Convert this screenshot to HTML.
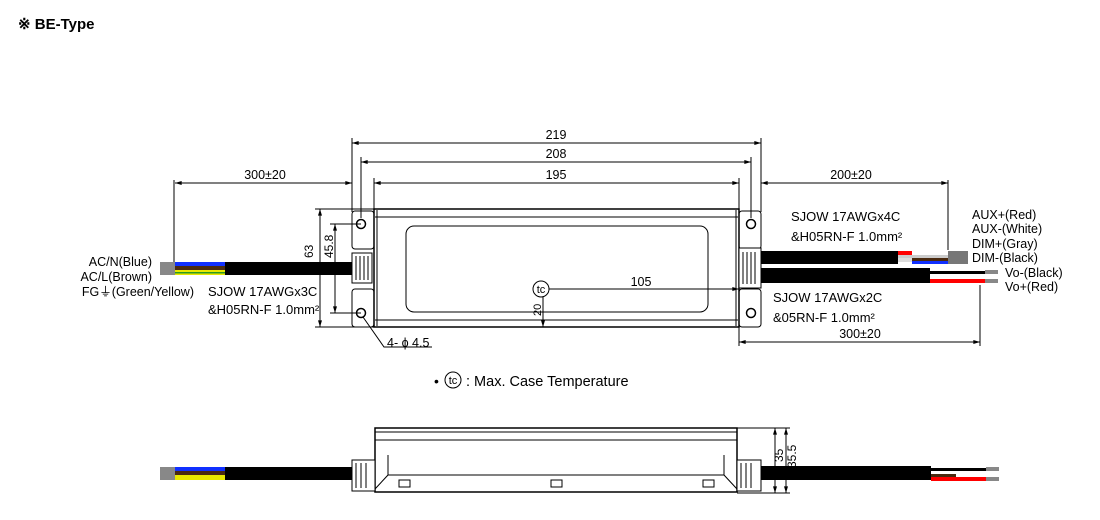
<!DOCTYPE html>
<html><head><meta charset="utf-8"><style>
body{margin:0;background:#fff}
svg{display:block;font-family:"Liberation Sans",Arial,sans-serif}
</style></head><body>
<svg width="1100" height="520" viewBox="0 0 1100 520" xmlns="http://www.w3.org/2000/svg">
<defs>
<marker id="a" viewBox="0 0 10 6" refX="10" refY="3" markerWidth="7" markerHeight="4" orient="auto-start-reverse"><path d="M0,0L10,3L0,6z" fill="#000"/></marker>
</defs>
<text x="18" y="29" font-size="15" font-weight="bold">※ BE-Type</text>
<g stroke="#000" stroke-width="1" fill="none">
<line x1="352" y1="143" x2="761" y2="143" marker-start="url(#a)" marker-end="url(#a)"/>
<line x1="361" y1="162" x2="751" y2="162" marker-start="url(#a)" marker-end="url(#a)"/>
<line x1="374" y1="183" x2="739" y2="183" marker-start="url(#a)" marker-end="url(#a)"/>
<line x1="175" y1="183" x2="352" y2="183" marker-start="url(#a)" marker-end="url(#a)"/>
<line x1="761" y1="183" x2="948" y2="183" marker-start="url(#a)" marker-end="url(#a)"/>
<line x1="739" y1="342" x2="980" y2="342" marker-start="url(#a)" marker-end="url(#a)"/>
<line x1="352" y1="138" x2="352" y2="212"/><line x1="761" y1="138" x2="761" y2="212"/>
<line x1="361" y1="157" x2="361" y2="218"/><line x1="751" y1="157" x2="751" y2="218"/>
<line x1="374" y1="178" x2="374" y2="209"/><line x1="739" y1="178" x2="739" y2="209"/>
<line x1="174" y1="180" x2="174" y2="262"/><line x1="948" y1="180" x2="948" y2="250"/>
<line x1="739" y1="327" x2="739" y2="346"/><line x1="980" y1="285" x2="980" y2="346"/>
<line x1="320" y1="209" x2="320" y2="327" marker-start="url(#a)" marker-end="url(#a)"/>
<line x1="335" y1="224" x2="335" y2="313" marker-start="url(#a)" marker-end="url(#a)"/>
<line x1="315" y1="209" x2="374" y2="209"/><line x1="315" y1="327" x2="374" y2="327"/>
<line x1="330" y1="224" x2="361" y2="224"/><line x1="330" y1="313" x2="361" y2="313"/>
<line x1="549" y1="289" x2="739" y2="289" marker-end="url(#a)"/>
<line x1="543" y1="297" x2="543" y2="327" marker-end="url(#a)"/>
<polyline points="363,317 384,347 432,347"/>
<rect x="352" y="211" width="22" height="38" rx="3"/><rect x="352" y="289" width="22" height="38" rx="3"/>
<rect x="739" y="211" width="22" height="38" rx="3"/><rect x="739" y="289" width="22" height="38" rx="3"/>
<circle cx="361" cy="224" r="4.5" stroke-width="1.5"/><circle cx="361" cy="313" r="4.5" stroke-width="1.5"/>
<circle cx="751" cy="224" r="4.5" stroke-width="1.5"/><circle cx="751" cy="313" r="4.5" stroke-width="1.5"/>
<rect x="374" y="209" width="365" height="118" stroke-width="1.5"/>
<line x1="375" y1="217" x2="738" y2="217"/><line x1="375" y1="320" x2="738" y2="320"/>
<line x1="377" y1="210" x2="377" y2="326"/><line x1="736" y1="210" x2="736" y2="326"/>
<rect x="406" y="226" width="302" height="86" rx="8"/>
<circle cx="541" cy="289" r="8" fill="#fff"/>
<rect x="352" y="253" width="20" height="30" fill="#fff"/><rect x="739" y="248" width="22" height="40" fill="#fff"/>
<path d="M356,256v24M360,256v24M364,256v24M368,256v24M743,252v32M747,252v32M751,252v32M755,252v32"/>
<rect x="375" y="428" width="362" height="64" stroke-width="1.5"/>
<line x1="375" y1="432" x2="737" y2="432"/><line x1="375" y1="440" x2="737" y2="440"/>
<path d="M388,455v20l-13,14M724,455v20l13,14M388,475h336"/>
<rect x="399" y="480" width="11" height="7"/><rect x="551" y="480" width="11" height="7"/><rect x="703" y="480" width="11" height="7"/>
<rect x="352" y="460" width="23" height="31" fill="#fff"/><rect x="737" y="460" width="24" height="31" fill="#fff"/>
<path d="M356,463v25M361,463v25M366,463v25M741,463v25M746,463v25M751,463v25"/>
<line x1="737" y1="428" x2="790" y2="428"/><line x1="737" y1="493" x2="790" y2="493"/>
<line x1="775" y1="428" x2="775" y2="493" marker-start="url(#a)" marker-end="url(#a)"/>
<line x1="786" y1="428" x2="786" y2="493" marker-start="url(#a)" marker-end="url(#a)"/>
</g>
<g>
<rect x="225" y="262" width="127" height="13" fill="#000"/>
<rect x="175" y="262" width="50" height="4" fill="#1030ff"/>
<rect x="175" y="266" width="50" height="4" fill="#4a2a10"/>
<rect x="175" y="270" width="50" height="5" fill="#e8e800"/>
<rect x="175" y="272" width="50" height="1.5" fill="#2a9a20"/>
<rect x="160" y="262" width="15" height="13" fill="#888"/>
<rect x="761" y="251" width="137" height="13" fill="#000"/>
<rect x="898" y="251" width="14" height="4" fill="#f00"/>
<rect x="898" y="255" width="60" height="3" fill="#ccc"/>
<rect x="898" y="258" width="14" height="4" fill="#ddd"/>
<rect x="912" y="258" width="46" height="3" fill="#4a2a10"/>
<rect x="912" y="261" width="46" height="3" fill="#1030ff"/>
<rect x="948" y="251" width="20" height="13" fill="#777"/>
<rect x="761" y="268" width="169" height="15" fill="#000"/>
<rect x="930" y="271" width="55" height="3" fill="#000"/>
<rect x="930" y="279" width="55" height="4" fill="#f00"/>
<rect x="985" y="270" width="13" height="4" fill="#888"/><rect x="985" y="279" width="13" height="4" fill="#888"/>
<rect x="225" y="467" width="127" height="13" fill="#000"/>
<rect x="175" y="467" width="50" height="4" fill="#1030ff"/>
<rect x="175" y="471" width="50" height="4" fill="#4a2a10"/>
<rect x="175" y="475" width="50" height="5" fill="#e8e800"/>
<rect x="160" y="467" width="15" height="13" fill="#888"/>
<rect x="761" y="466" width="170" height="14" fill="#000"/>
<rect x="931" y="468" width="55" height="3" fill="#000"/>
<rect x="931" y="477" width="55" height="4" fill="#f00"/>
<rect x="931" y="474" width="25" height="3" fill="#4a2a10"/>
<rect x="986" y="467" width="13" height="4" fill="#888"/><rect x="986" y="477" width="13" height="4" fill="#888"/>
</g>
<g font-size="12.5" fill="#000">
<text x="556" y="139" text-anchor="middle">219</text>
<text x="556" y="158" text-anchor="middle">208</text>
<text x="556" y="179" text-anchor="middle">195</text>
<text x="265" y="179" text-anchor="middle">300±20</text>
<text x="851" y="179" text-anchor="middle">200±20</text>
<text x="860" y="338" text-anchor="middle">300±20</text>
<text x="641" y="286" text-anchor="middle">105</text>
<text x="541" y="293" text-anchor="middle" font-size="11">tc</text>
<text transform="translate(313,258) rotate(-90)" font-size="12">63</text>
<text transform="translate(333,258) rotate(-90)" font-size="12">45.8</text>
<text transform="translate(541,316) rotate(-90)" font-size="11">20</text>
<text transform="translate(783,462) rotate(-90)" font-size="12">35</text>
<text transform="translate(796,468) rotate(-90)" font-size="12">35.5</text>
<text x="387" y="347">4- ϕ 4.5</text>
<text x="152" y="266" text-anchor="end">AC/N(Blue)</text>
<text x="152" y="281" text-anchor="end">AC/L(Brown)</text>
<text x="194" y="296" text-anchor="end">FG⏚(Green/Yellow)</text>
<text x="208" y="296" font-size="13">SJOW 17AWGx3C</text>
<text x="208" y="314" font-size="13">&amp;H05RN-F 1.0mm²</text>
<text x="791" y="221" font-size="13">SJOW 17AWGx4C</text>
<text x="791" y="241" font-size="13">&amp;H05RN-F 1.0mm²</text>
<text x="773" y="302" font-size="13">SJOW 17AWGx2C</text>
<text x="773" y="322" font-size="13">&amp;05RN-F 1.0mm²</text>
<text x="972" y="219">AUX+(Red)</text>
<text x="972" y="233">AUX-(White)</text>
<text x="972" y="248">DIM+(Gray)</text>
<text x="972" y="262">DIM-(Black)</text>
<text x="1005" y="277">Vo-(Black)</text>
<text x="1005" y="291">Vo+(Red)</text>
<text x="434" y="386" font-size="14">•</text>
<circle cx="453" cy="380" r="8" fill="none" stroke="#000"/>
<text x="453" y="384" font-size="11" text-anchor="middle">tc</text>
<text x="466" y="386" font-size="14.5">: Max. Case Temperature</text>
</g>
</svg>
</body></html>
